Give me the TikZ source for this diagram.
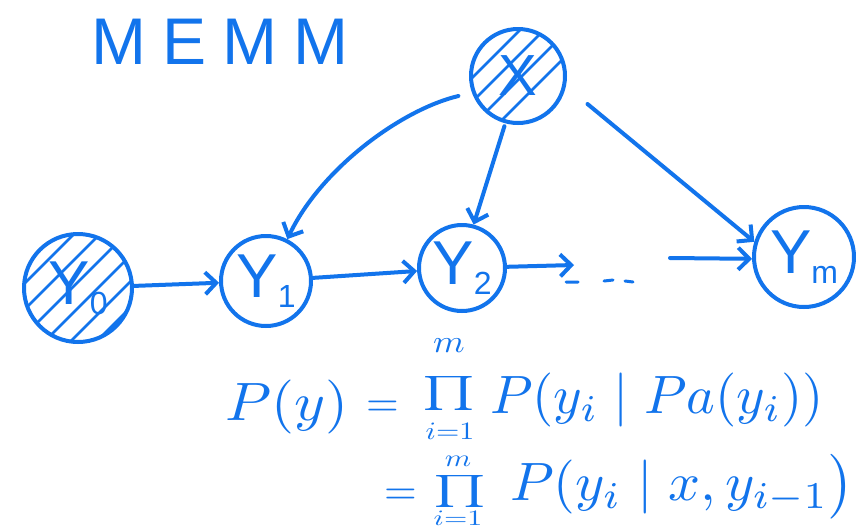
\documentclass[tikz,border=0pt]{standalone}
\usepackage{graphicx}
\usepackage{fontspec}
\setsansfont{Liberation Sans}
\usetikzlibrary{arrows.meta}
\definecolor{ink}{RGB}{18,116,236}
\newcommand\lowidx[1]{\raisebox{-10pt}{\fontsize{32}{32}\selectfont #1}}
\newcommand\bigmath[3]{\scalebox{#1}[#2]{$#3$}}
\begin{document}
\begin{tikzpicture}[x=1pt,y=-1pt,line cap=round,line join=round,
  var/.style={circle,draw=ink,line width=4pt,inner sep=0pt,text=ink,
    font=\sffamily\fontsize{62}{62}\selectfont},
  link/.style={draw=ink,line width=4pt,
    -{Straight Barb[length=11pt,width=22pt,line width=4pt]}},
  hatch/.style={draw=ink,line width=2.5pt},
  eqn/.style={text=ink,inner sep=0pt,anchor=base west},
  lim/.style={text=ink,inner sep=0pt}]
\fill[white] (0,0) rectangle (856,531);
\useasboundingbox (0,0) rectangle (856,531);

% title
\node[text=ink,font=\sffamily\fontsize{66}{66}\selectfont,anchor=base west]
  (title) at (88,64) {M\hspace{16pt}E\hspace{16pt}M\hspace{16pt}M};

% hatching of the observed variables
\begin{scope}
  \clip (78,288) circle (54);
  \foreach \d in {-84,-58,...,90}
    \draw[hatch] (78+\d-70,358) -- ++(140,-140);
\end{scope}
\begin{scope}
  \clip (518,76) circle (47);
  \foreach \d in {-44,-20,...,50}
    \draw[hatch] (518+\d-60,136) -- ++(120,-120);
\end{scope}

% variables
\node[var,minimum size=108pt] (y0) at (78,288) {Y\lowidx{0}};
\node[var,minimum size=90pt]  (y1) at (266,281) {Y\lowidx{1}};
\node[var,minimum size=86pt]  (y2) at (462,268) {Y\lowidx{2}};
\node[var,minimum size=100pt] (ym) at (804,257) {Y\lowidx{m}};
\node[var,minimum size=94pt,font=\sffamily\fontsize{58}{58}\selectfont]
  (x) at (518,76) {X};

% chain
\coordinate (dl) at (574,265);
\coordinate (dr) at (670,258);
\draw[link] (y0) -- (y1);
\draw[link] (y1) -- (y2);
\draw[link] (y2) -- (dl);
\draw[ink,line width=3pt] (566,282) -- (578,282) (604,281) -- (613,280)
  (625,281) -- (633,282);
\draw[link] (dr) -- (ym.182);

% dependence on the observation
\draw[link,shorten <=14pt] (x.200) .. controls (400,110) and (320,170) .. (y1.63);
\draw[link,shorten <=3pt] (x.255) -- (y2.75);
\draw[link,shorten <=28pt] (x.-12) -- (ym.163);

% factorisation, first line
\node[eqn] (lhs)   at (225,420) {\bigmath{5.9}{5.4}{P(y)}};
\node[eqn] (eqa)   at (366,416) {\bigmath{4.2}{4.2}{=}};
\node[lim] (proda) at (449,393) {\bigmath{5.6}{3.4}{\prod}};
\node[lim] (ma)    at (449,346) {\bigmath{3.6}{3.2}{m}};
\node[lim] (ia)    at (450,431) {\bigmath{3.0}{2.5}{i{=}1}};
\node[eqn] (rhsa)  at (490,413) {\bigmath{5.45}{5.4}{P(y_i \mid Pa(y_i))}};

% factorisation, second line
\node[eqn] (eqb)   at (384,504) {\bigmath{4.2}{4.2}{=}};
\node[lim] (prodb) at (460,491) {\bigmath{5.6}{3.2}{\prod}};
\node[lim] (mb)    at (458,461) {\bigmath{3.0}{2.4}{m}};
\node[lim] (ib)    at (458,518) {\bigmath{3.0}{2.2}{i{=}1}};
\node[eqn] (rhsb)  at (510,500) {\bigmath{5.6}{5.4}{P(y_i \mid x, y_{i-1}\bigr)}};
\end{tikzpicture}
\end{document}
